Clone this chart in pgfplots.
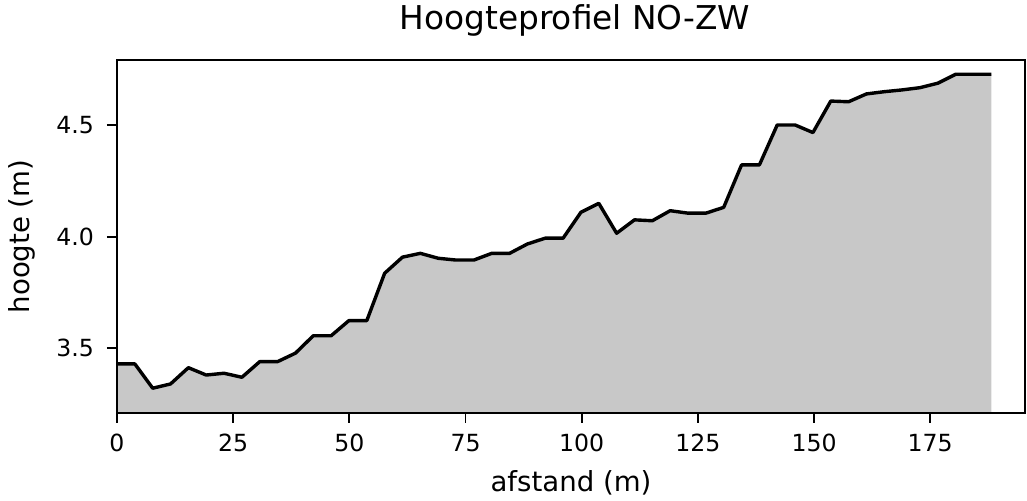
\documentclass[border=0pt]{standalone}
\usepackage{pgfplots}
\usepackage{pgfplotstable}
\pgfplotsset{compat=1.18}
\usepackage{fontspec}
\setmainfont{DejaVu Sans}
\definecolor{fillgray}{RGB}{200,200,200}
\pgfplotstableread{
x y
0.00 3.430
3.84 3.430
7.68 3.321
11.52 3.340
15.36 3.413
19.20 3.380
23.04 3.388
26.88 3.370
30.72 3.440
34.56 3.440
38.40 3.478
42.24 3.556
46.08 3.556
49.92 3.624
53.76 3.624
57.60 3.836
61.44 3.908
65.28 3.925
69.12 3.903
72.96 3.895
76.80 3.895
80.64 3.925
84.48 3.925
88.32 3.967
92.16 3.993
96.00 3.993
99.84 4.109
103.68 4.149
107.52 4.015
111.36 4.075
115.20 4.071
119.04 4.116
122.88 4.105
126.72 4.105
130.56 4.131
134.40 4.321
138.24 4.321
142.08 4.500
145.92 4.500
149.76 4.466
153.60 4.607
157.44 4.604
161.28 4.639
165.12 4.649
168.96 4.657
172.80 4.667
176.64 4.687
180.48 4.727
184.32 4.727
188.16 4.727
}\profiel
\begin{document}
\begin{tikzpicture}
\begin{axis}[
  scale only axis, width=454pt, height=176.5pt,
  xmin=0, xmax=195.4, ymin=3.210, ymax=4.791,
  axis on top,
  axis line style={line width=0.9pt},
  xtick={0,25,...,175}, ytick={3.5,4.0,4.5},
  yticklabel style={xshift=-3pt, /pgf/number format/fixed, /pgf/number format/fixed zerofill, /pgf/number format/precision=1},
  xticklabel style={yshift=-2pt},
  /pgf/number format/assume math mode=true,
  tick align=outside, tick pos=left, major tick length=5pt,
  tick style={line width=0.9pt, black},
  ticklabel style={font=\fontsize{11.8}{14}\selectfont},
  xlabel={afstand (m)}, ylabel={hoogte (m)},
  label style={font=\fontsize{13.8}{16}\selectfont},
  xlabel style={at={(rel axis cs:0.5,0)}, anchor=base, yshift=-39.5pt},
  ylabel style={at={(rel axis cs:0,0.5)}, anchor=center, yshift=47.5pt},
  title={Hoogteprofiel NO-ZW},
  title style={font=\fontsize{16.4}{19}\selectfont, at={(rel axis cs:0.5,1)}, anchor=base, yshift=9pt, xshift=2pt},
]
\addplot[fill=fillgray, draw=none] table[x=x, y=y] {\profiel} \closedcycle;
\addplot[black, line width=1.7pt, line join=round] table[x=x, y=y] {\profiel};
\end{axis}
\pgfresetboundingbox
\path ([shift={(-58.5pt,-44pt)}]current axis.south west) rectangle ([shift={(1pt,30pt)}]current axis.north east);
\end{tikzpicture}
\end{document}
